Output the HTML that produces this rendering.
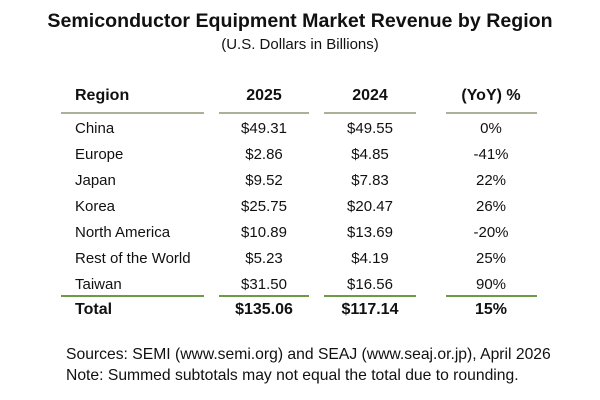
<!DOCTYPE html>
<html><head><style>
body{margin:0;width:600px;height:400px;background:#fff;position:relative;font-family:"Liberation Sans",Arial,sans-serif;color:#111;overflow:hidden}
.t{position:absolute;white-space:nowrap;line-height:1}
.c{transform:translateX(-50%)}
.b{font-weight:bold}
.l{position:absolute;height:2px}
</style></head><body>
<div class="t b c" style="left:300px;top:12px;font-size:19.6px">Semiconductor Equipment Market Revenue by Region</div>
<div class="t c" style="left:300px;top:37px;font-size:15px">(U.S. Dollars in Billions)</div>

<div class="t b" style="left:75px;top:88px;font-size:16px">Region</div>
<div class="t b c" style="left:264px;top:88px;font-size:16px">2025</div>
<div class="t b c" style="left:370px;top:88px;font-size:16px">2024</div>
<div class="t b c" style="left:491px;top:88px;font-size:16px">(YoY) %</div>

<div class="l" style="left:61px;width:143px;top:112px;background:#a9b198"></div>
<div class="l" style="left:219px;width:90px;top:112px;background:#a9b198"></div>
<div class="l" style="left:324px;width:92px;top:112px;background:#a9b198"></div>
<div class="l" style="left:446px;width:91px;top:112px;background:#a9b198"></div>

<div class="l" style="left:61px;width:143px;top:295px;background:#6f9a45"></div>
<div class="l" style="left:219px;width:90px;top:295px;background:#6f9a45"></div>
<div class="l" style="left:324px;width:92px;top:295px;background:#6f9a45"></div>
<div class="l" style="left:446px;width:91px;top:295px;background:#6f9a45"></div>

<div style="font-size:15px">
<div class="t" style="left:75px;top:121px">China</div><div class="t c" style="left:264px;top:121px">$49.31</div><div class="t c" style="left:370px;top:121px">$49.55</div><div class="t c" style="left:491px;top:121px">0%</div>
<div class="t" style="left:75px;top:147px">Europe</div><div class="t c" style="left:264px;top:147px">$2.86</div><div class="t c" style="left:370px;top:147px">$4.85</div><div class="t c" style="left:491px;top:147px">-41%</div>
<div class="t" style="left:75px;top:173px">Japan</div><div class="t c" style="left:264px;top:173px">$9.52</div><div class="t c" style="left:370px;top:173px">$7.83</div><div class="t c" style="left:491px;top:173px">22%</div>
<div class="t" style="left:75px;top:199px">Korea</div><div class="t c" style="left:264px;top:199px">$25.75</div><div class="t c" style="left:370px;top:199px">$20.47</div><div class="t c" style="left:491px;top:199px">26%</div>
<div class="t" style="left:75px;top:225px">North America</div><div class="t c" style="left:264px;top:225px">$10.89</div><div class="t c" style="left:370px;top:225px">$13.69</div><div class="t c" style="left:491px;top:225px">-20%</div>
<div class="t" style="left:75px;top:251px">Rest of the World</div><div class="t c" style="left:264px;top:251px">$5.23</div><div class="t c" style="left:370px;top:251px">$4.19</div><div class="t c" style="left:491px;top:251px">25%</div>
<div class="t" style="left:75px;top:277px">Taiwan</div><div class="t c" style="left:264px;top:277px">$31.50</div><div class="t c" style="left:370px;top:277px">$16.56</div><div class="t c" style="left:491px;top:277px">90%</div>
</div>
<div style="font-size:16px;font-weight:bold">
<div class="t" style="left:75px;top:302px">Total</div><div class="t c" style="left:264px;top:302px">$135.06</div><div class="t c" style="left:370px;top:302px">$117.14</div><div class="t c" style="left:491px;top:302px">15%</div>
</div>

<div class="t" style="left:66px;top:347px;font-size:15.7px">Sources: SEMI (www.semi.org) and SEAJ (www.seaj.or.jp), April 2026</div>
<div class="t" style="left:66px;top:368px;font-size:15.7px">Note: Summed subtotals may not equal the total due to rounding.</div>
</body></html>
